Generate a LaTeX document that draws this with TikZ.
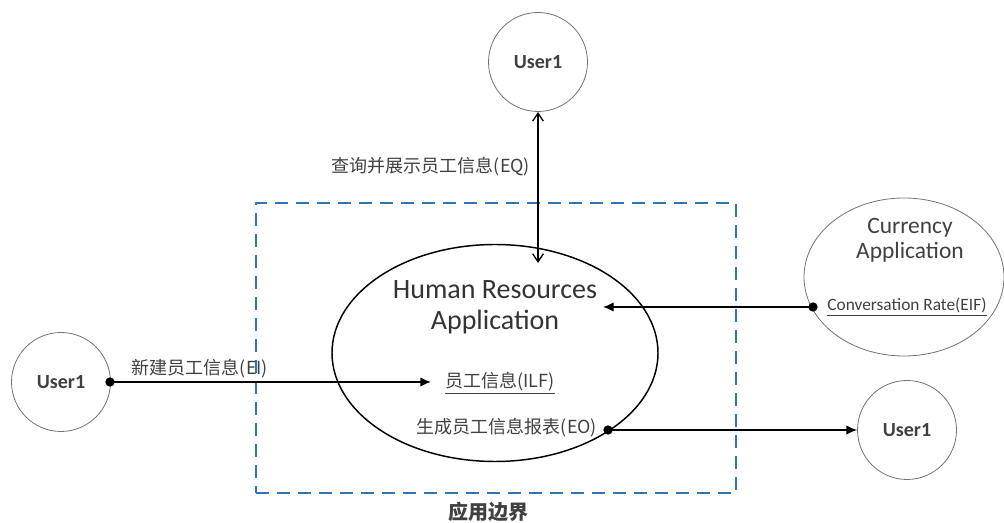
\documentclass[tikz,border=0pt]{standalone}
\usepackage{fontspec}
\setmainfont{Carlito}
\newfontfamily\cjk{Noto Sans CJK SC}
\usetikzlibrary{arrows.meta,shapes.geometric}
\definecolor{bndblue}{RGB}{46,117,182}
\definecolor{txtgray}{RGB}{64,64,64}
\begin{document}
\begin{tikzpicture}[x=0.75pt,y=-0.75pt,
  usercircle/.style={draw=gray!90!black,line width=0.6pt,circle,minimum size=99*0.75pt,inner sep=0pt,font=\bfseries\fontsize{15}{18}\selectfont,text=txtgray},
  flow/.style={draw=black,line width=1pt,-{Latex[length=8pt,width=7pt]}},
  lbl/.style={font=\cjk\fontsize{13.5}{16}\selectfont,text=txtgray,inner sep=1pt},
  dotend/.style={circle,fill=black,inner sep=0pt,minimum size=7pt}]
\useasboundingbox (0,0) rectangle (1004,523);
% boundary
\node[draw=bndblue,dash pattern=on 9.75pt off 6pt,line width=2.2pt,minimum width=480*0.75pt,minimum height=290*0.75pt,inner sep=0pt] (bound) at (496,348) {};
\node[font=\cjk\bfseries\fontsize{15}{18}\selectfont,text=txtgray] (boundlbl) at (488,512) {应用边界};
% circles
\node[usercircle] (utop) at (538,62) {User1};
\node[usercircle] (uleft) at (61,382) {User1};
\node[usercircle] (uright) at (907,430) {User1};
% ellipses
\node[draw=black,line width=1.1pt,ellipse,minimum width=326*0.75pt,minimum height=217*0.75pt,inner sep=0pt] (hr) at (495,353) {};
\node[draw=gray!90!black,line width=0.6pt,ellipse,minimum width=200*0.75pt,minimum height=158*0.75pt,inner sep=0pt] (cur) at (904,277) {};
% texts
\node[font=\fontsize{21}{23}\selectfont,text=black!80,align=center] (hrtext) at (495,307) {Human Resources\\Application};
\node[font=\fontsize{17.6}{19}\selectfont,align=center,text=txtgray] (curtext) at (910,240) {Currency\\Application};
\node[inner sep=1pt,text=txtgray,font=\fontsize{13}{15}\selectfont] (cr) at (907,307) {\underline{Conversation Rate(EIF)}};
\node[lbl] (ilf) at (500,383) {\underline{员工信息(ILF)}};
\node[lbl] (eo) at (507,428) {生成员工信息报表(EO)};
\node[lbl] (eq) at (431,167) {查询并展示员工信息(EQ)};
\node[lbl] (ei) at (200,369) {新建员工信息(EI)};
% dots
\node[dotend] (d1) at (110,382) {};
\node[dotend] (d2) at (813,307) {};
\node[dotend] (d3) at (608,430) {};
% connectors
\coordinate (ilfin) at (431,382);
\coordinate (hrin) at (603,307);
\coordinate (eqend) at (538,263);
\draw[flow] (d1.center) -- (ilfin);
\draw[flow] (d2.center) -- (hrin);
\draw[flow] (d3.center) -- (uright.west);
\draw[draw=black,line width=1pt,{Straight Barb[length=6pt,width=8pt]}-{Straight Barb[length=6pt,width=8pt]}] (utop.south) -- (eqend);
\end{tikzpicture}
\end{document}
